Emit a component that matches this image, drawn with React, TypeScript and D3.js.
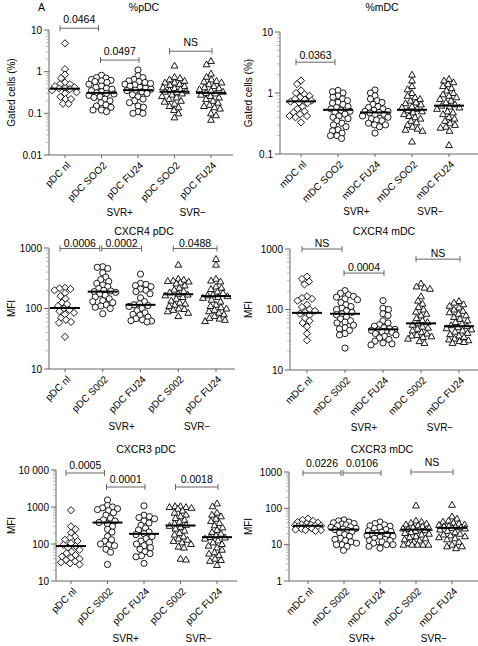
import React from 'react';
import * as d3 from 'd3';

// ---------- categories & labels ----------
const pdcLabelsTop = ['pDC nl', 'pDC SOO2', 'pDC FU24', 'pDC SOO2', 'pDC FU24'];
const mdcLabelsTop = ['mDC nl', 'mDC SOO2', 'mDC FU24', 'mDC SOO2', 'mDC FU24'];
const pdcLabels = ['pDC nl', 'pDC S002', 'pDC FU24', 'pDC S002', 'pDC FU24'];
const mdcLabels = ['mDC nl', 'mDC S002', 'mDC FU24', 'mDC S002', 'mDC FU24'];
const markerShapes = ['diamond', 'circle', 'circle', 'triangle', 'triangle'];
const groupLabels = ['SVR+', 'SVR\u2212'];

// ---------- tick values ----------
const pctTicksA = [0.01, 0.1, 1, 10];
const pctTickLabelsA = ['0.01', '0.1', '1', '10'];
const pctTicksB = [0.1, 1, 10];
const pctTickLabelsB = ['0.1', '1', '10'];
const mfiTicks = [10, 100, 1000];
const mfiTickLabels = ['10', '100', '1000'];
const cx3pTicks = [10, 100, 1000, 10000];
const cx3pTickLabels = ['10', '100', '1000', '10 000'];
const cx3mTicks = [1, 10, 100, 1000];
const cx3mTickLabels = ['1', '10', '100', '1000'];

// ---------- %pDC ----------
const pctPdcNl = [4.8, 1.15, 0.85, 0.7, 0.55, 0.5, 0.5, 0.45, 0.42, 0.4, 0.4, 0.38, 0.36, 0.32, 0.3, 0.25, 0.22, 0.22, 0.17, 0.17];
const pctPdcSoo2P = [0.82, 0.72, 0.7, 0.65, 0.62, 0.6, 0.58, 0.55, 0.5, 0.45, 0.42, 0.4, 0.38, 0.35, 0.33, 0.31, 0.3, 0.29, 0.27, 0.25, 0.24, 0.22, 0.2, 0.18, 0.16, 0.15, 0.14, 0.12, 0.12, 0.11];
const pctPdcFu24P = [1.1, 0.8, 0.72, 0.65, 0.6, 0.58, 0.55, 0.52, 0.5, 0.48, 0.45, 0.42, 0.4, 0.38, 0.36, 0.35, 0.33, 0.3, 0.28, 0.25, 0.22, 0.2, 0.18, 0.15, 0.14, 0.11, 0.1, 0.1];
const pctPdcSoo2N = [1.4, 0.75, 0.7, 0.65, 0.6, 0.55, 0.55, 0.5, 0.48, 0.45, 0.42, 0.4, 0.38, 0.36, 0.34, 0.33, 0.32, 0.3, 0.28, 0.26, 0.24, 0.22, 0.2, 0.19, 0.17, 0.15, 0.14, 0.12, 0.1, 0.08];
const pctPdcFu24N = [1.8, 1.5, 0.9, 0.75, 0.65, 0.6, 0.58, 0.55, 0.5, 0.45, 0.42, 0.4, 0.38, 0.35, 0.33, 0.31, 0.3, 0.28, 0.26, 0.24, 0.22, 0.2, 0.18, 0.16, 0.15, 0.14, 0.13, 0.1, 0.09, 0.07];
const pctPdcMedians = [0.39, 0.31, 0.36, 0.33, 0.31];

// ---------- %mDC ----------
const pctMdcNl = [1.6, 1.4, 1.1, 1.0, 0.95, 0.9, 0.85, 0.8, 0.78, 0.75, 0.72, 0.7, 0.68, 0.6, 0.55, 0.5, 0.48, 0.45, 0.42, 0.42, 0.4, 0.33];
const pctMdcSoo2P = [1.1, 1.05, 1.0, 0.9, 0.85, 0.8, 0.75, 0.7, 0.68, 0.65, 0.6, 0.58, 0.55, 0.52, 0.5, 0.48, 0.45, 0.42, 0.4, 0.38, 0.35, 0.32, 0.3, 0.28, 0.25, 0.24, 0.22, 0.2, 0.2, 0.18];
const pctMdcFu24P = [1.12, 1.0, 0.9, 0.8, 0.75, 0.7, 0.65, 0.6, 0.58, 0.55, 0.52, 0.5, 0.5, 0.48, 0.47, 0.45, 0.44, 0.42, 0.4, 0.38, 0.36, 0.35, 0.32, 0.3, 0.3, 0.28, 0.22];
const pctMdcSoo2N = [2.0, 1.6, 1.3, 1.15, 1.0, 0.9, 0.85, 0.8, 0.75, 0.7, 0.68, 0.65, 0.6, 0.58, 0.55, 0.52, 0.5, 0.48, 0.45, 0.42, 0.4, 0.38, 0.35, 0.33, 0.3, 0.28, 0.26, 0.25, 0.24, 0.16];
const pctMdcFu24N = [1.7, 1.6, 1.5, 1.4, 1.3, 1.2, 1.1, 1.0, 0.95, 0.9, 0.85, 0.8, 0.75, 0.7, 0.65, 0.62, 0.6, 0.58, 0.55, 0.5, 0.48, 0.45, 0.4, 0.38, 0.35, 0.32, 0.3, 0.28, 0.27, 0.24, 0.14];
const pctMdcMedians = [0.73, 0.53, 0.48, 0.53, 0.62];

// ---------- CXCR4 pDC ----------
const cx4PdcNl = [220, 215, 210, 200, 180, 160, 145, 125, 118, 110, 100, 95, 90, 85, 80, 70, 65, 60, 58, 34];
const cx4PdcSoo2P = [490, 480, 460, 390, 330, 300, 280, 260, 245, 230, 215, 200, 195, 190, 185, 175, 165, 155, 145, 135, 130, 125, 115, 110, 105, 100, 82];
const cx4PdcFu24P = [370, 260, 250, 240, 230, 210, 200, 190, 175, 150, 130, 120, 115, 112, 108, 100, 92, 85, 80, 78, 72, 68, 65, 63, 62, 60];
const cx4PdcSoo2N = [530, 310, 300, 290, 285, 280, 270, 260, 240, 220, 205, 195, 185, 175, 170, 165, 155, 145, 135, 125, 120, 115, 110, 100, 98, 95, 90, 85, 75];
const cx4PdcFu24N = [660, 530, 310, 290, 280, 230, 220, 210, 190, 180, 170, 165, 160, 155, 150, 140, 130, 115, 110, 105, 100, 95, 90, 85, 80, 75, 70, 68, 65, 62];
const cx4PdcMedians = [102, 190, 115, 172, 160];

// ---------- CXCR4 mDC ----------
const cx4MdcNl = [350, 320, 290, 260, 165, 155, 150, 140, 120, 110, 100, 95, 90, 85, 80, 72, 65, 60, 52, 40, 31];
const cx4MdcSoo2P = [205, 185, 175, 165, 160, 150, 145, 130, 120, 112, 105, 100, 95, 90, 85, 82, 75, 70, 65, 62, 60, 55, 50, 48, 45, 40, 38, 23];
const cx4MdcFu24P = [140, 105, 100, 85, 80, 65, 60, 56, 53, 50, 48, 47, 46, 45, 44, 43, 42, 40, 38, 36, 34, 32, 30, 28, 27, 26];
const cx4MdcSoo2N = [270, 240, 230, 220, 165, 140, 125, 110, 100, 92, 85, 80, 72, 66, 62, 59, 56, 52, 50, 48, 45, 42, 40, 38, 37, 36, 35, 33, 30, 28];
const cx4MdcFu24N = [138, 130, 122, 115, 108, 100, 95, 90, 85, 80, 75, 70, 66, 62, 58, 55, 53, 51, 49, 47, 45, 43, 41, 39, 37, 35, 33, 32, 31, 30, 29, 28];
const cx4MdcMedians = [88, 85, 47, 59, 53];

// ---------- CXCR3 pDC ----------
const cx3PdcNl = [820, 300, 250, 200, 160, 145, 130, 120, 105, 95, 88, 80, 70, 62, 56, 50, 46, 42, 40, 37, 34, 32, 30, 28];
const cx3PdcSoo2P = [1550, 1100, 1000, 950, 900, 850, 800, 700, 600, 500, 450, 420, 380, 350, 300, 250, 210, 160, 130, 120, 100, 95, 90, 72, 60, 28];
const cx3PdcFu24P = [1080, 600, 550, 520, 480, 420, 370, 320, 270, 240, 210, 190, 180, 160, 140, 120, 110, 100, 90, 80, 72, 62, 55, 48, 45, 30];
const cx3PdcSoo2N = [1050, 1050, 1000, 1000, 950, 900, 800, 700, 620, 560, 500, 450, 400, 360, 330, 310, 290, 260, 230, 200, 180, 160, 140, 130, 120, 110, 100, 85, 80, 40, 38];
const cx3PdcFu24N = [1250, 1050, 700, 620, 560, 480, 420, 370, 320, 280, 240, 210, 190, 170, 155, 150, 140, 125, 110, 100, 90, 80, 70, 60, 55, 50, 40, 37, 35, 27];
const cx3PdcMedians = [88, 380, 188, 316, 153];

// ---------- CXCR3 mDC ----------
const cx3MdcNl = [52, 48, 45, 42, 40, 38, 36, 35, 34, 33, 33, 32, 31, 30, 29, 28, 27, 26, 25, 25, 24];
const cx3MdcSoo2P = [48, 45, 42, 40, 38, 37, 35, 33, 31, 30, 28, 27, 26, 25, 23, 21, 19, 17, 15, 14, 13, 12, 11, 10, 10, 9, 7];
const cx3MdcFu24P = [42, 38, 35, 33, 32, 30, 28, 26, 24, 23, 22, 21, 20, 19, 18, 17, 16, 15, 14, 13, 13, 12, 12, 11, 10, 10, 9, 8];
const cx3MdcSoo2N = [120, 46, 43, 40, 38, 36, 34, 32, 30, 29, 28, 27, 26, 25, 24, 22, 21, 20, 19, 17, 16, 15, 14, 13, 12, 11, 10, 10, 10, 10, 10];
const cx3MdcFu24N = [125, 60, 52, 46, 43, 40, 38, 36, 35, 33, 32, 31, 30, 29, 28, 26, 24, 22, 20, 19, 18, 17, 16, 15, 14, 12, 10, 9, 9, 8];
const cx3MdcMedians = [33, 26, 21, 26, 29];

// ---------- significance brackets (category index from/to, level in data units) ----------
const br1 = [{ a: 0, b: 1, v: 11, t: '0.0464' }, { a: 1, b: 2, v: 1.9, t: '0.0497' }, { a: 3, b: 4, v: 3.1, t: 'NS' }];
const br2 = [{ a: 0, b: 1, v: 3.2, t: '0.0363' }];
const br3 = [{ a: 0, b: 1, v: 980, t: '0.0006' }, { a: 1, b: 2, v: 980, t: '0.0002' }, { a: 3, b: 4, v: 980, t: '0.0488' }];
const br4 = [{ a: 0, b: 1, v: 1000, t: 'NS' }, { a: 1, b: 2, v: 400, t: '0.0004' }, { a: 3, b: 4, v: 680, t: 'NS' }];
const br5 = [{ a: 0, b: 1, v: 8300, t: '0.0005' }, { a: 1, b: 2, v: 3470, t: '0.0001' }, { a: 3, b: 4, v: 3470, t: '0.0018' }];
const br6 = [{ a: 0, b: 1, v: 940, t: '0.0226' }, { a: 1, b: 2, v: 940, t: '0.0106' }, { a: 3, b: 4, v: 1000, t: 'NS' }];

const panels = [
  {
    key: 'p1', title: '%pDC', yLabel: 'Gated cells (%)', cats: pdcLabelsTop,
    series: [pctPdcNl, pctPdcSoo2P, pctPdcFu24P, pctPdcSoo2N, pctPdcFu24N], medians: pctPdcMedians,
    domain: [0.01, 10], ticks: pctTicksA, tickLabels: pctTickLabelsA, brackets: br1,
    L: { ax: 49, yt: 30, yb: 155, xe: 233, c0: 65, c1: 211, tx: 144, ty: 11, lx: 15, gap: 5 },
  },
  {
    key: 'p2', title: '%mDC', yLabel: 'Gated cells (%)', cats: mdcLabelsTop,
    series: [pctMdcNl, pctMdcSoo2P, pctMdcFu24P, pctMdcSoo2N, pctMdcFu24N], medians: pctMdcMedians,
    domain: [0.1, 10], ticks: pctTicksB, tickLabels: pctTickLabelsB, brackets: br2,
    L: { ax: 280, yt: 32, yb: 154, xe: 478, c0: 301, c1: 449, tx: 382, ty: 11, lx: 252, gap: 3.5 },
  },
  {
    key: 'p3', title: 'CXCR4 pDC', yLabel: 'MFI', cats: pdcLabels,
    series: [cx4PdcNl, cx4PdcSoo2P, cx4PdcFu24P, cx4PdcSoo2N, cx4PdcFu24N], medians: cx4PdcMedians,
    domain: [10, 1000], ticks: mfiTicks, tickLabels: mfiTickLabels, brackets: br3,
    L: { ax: 49, yt: 248, yb: 369, xe: 235, c0: 65, c1: 216, tx: 144, ty: 235, lx: 15, gap: 1.5 },
  },
  {
    key: 'p4', title: 'CXCR4 mDC', yLabel: 'MFI', cats: mdcLabels,
    series: [cx4MdcNl, cx4MdcSoo2P, cx4MdcFu24P, cx4MdcSoo2N, cx4MdcFu24N], medians: cx4MdcMedians,
    domain: [10, 1000], ticks: mfiTicks, tickLabels: mfiTickLabels, brackets: br4,
    L: { ax: 290, yt: 249, yb: 370, xe: 478, c0: 307, c1: 459, tx: 384, ty: 235, lx: 252, gap: 2.5 },
  },
  {
    key: 'p5', title: 'CXCR3 pDC', yLabel: 'MFI', cats: pdcLabels,
    series: [cx3PdcNl, cx3PdcSoo2P, cx3PdcFu24P, cx3PdcSoo2N, cx3PdcFu24N], medians: cx3PdcMedians,
    domain: [10, 10000], ticks: cx3pTicks, tickLabels: cx3pTickLabels, brackets: br5,
    L: { ax: 56, yt: 470, yb: 581, xe: 237, c0: 71, c1: 217, tx: 146, ty: 453, lx: 15, gap: 4 },
  },
  {
    key: 'p6', title: 'CXCR3 mDC', yLabel: 'MFI', cats: mdcLabels,
    series: [cx3MdcNl, cx3MdcSoo2P, cx3MdcFu24P, cx3MdcSoo2N, cx3MdcFu24N], medians: cx3MdcMedians,
    domain: [1, 1000], ticks: cx3mTicks, tickLabels: cx3mTickLabels, brackets: br6,
    L: { ax: 289, yt: 472, yb: 581, xe: 478, c0: 308, c1: 452, tx: 382, ty: 453, lx: 252, gap: 6 },
  },
];

const FONT = '"Liberation Sans", Arial, Helvetica, sans-serif';

// deterministic dodge layout for the dots (x offset only), clamped to a column width
function swarm(values: number[], y: (v: number) => number, minDist: number, maxSpread: number) {
  const items = values.map((v) => ({ v, y: y(v), x: 0 })).sort((a, b) => a.y - b.y);
  const placed: { x: number; y: number }[] = [];
  items.forEach((it, idx) => {
    let chosen: number | null = null;
    let bestScore = -1;
    let bestDx = 0;
    for (let k = 0; k * 0.5 <= maxSpread; k++) {
      const d = k * 0.5;
      const cands = k === 0 ? [0] : idx % 2 === 0 ? [d, -d] : [-d, d];
      for (const dx of cands) {
        let minD2 = Infinity;
        for (const p of placed) {
          const d2 = (p.x - dx) ** 2 + (p.y - it.y) ** 2;
          if (d2 < minD2) minD2 = d2;
        }
        if (minD2 >= minDist * minDist) {
          chosen = dx;
          break;
        }
        if (minD2 > bestScore) {
          bestScore = minD2;
          bestDx = dx;
        }
      }
      if (chosen !== null) break;
    }
    it.x = chosen !== null ? chosen : bestDx;
    placed.push(it);
  });
  return items;
}

function Marker({ shape, x, y }: { shape: string; x: number; y: number }) {
  const st = { fill: 'white', stroke: 'black', strokeWidth: 0.9 };
  if (shape === 'circle') return <circle cx={x} cy={y} r={3.1} {...st} />;
  if (shape === 'diamond') {
    const s = 3.6;
    return <path d={`M${x},${y - s}L${x + s},${y}L${x},${y + s}L${x - s},${y}Z`} {...st} />;
  }
  return <path d={`M${x},${y - 3.4}L${x + 3.4},${y + 2.5}L${x - 3.4},${y + 2.5}Z`} {...st} />;
}

function Panel({ p }: { p: (typeof panels)[number] }) {
  const L = p.L;
  const y = d3.scaleLog().domain(p.domain).range([L.yb, L.yt]);
  const x = d3.scalePoint<number>().domain([0, 1, 2, 3, 4]).range([L.c0, L.c1]);
  const minor: number[] = [];
  const lo = Math.round(Math.log10(p.domain[0]));
  const hi = Math.round(Math.log10(p.domain[1]));
  for (let e = lo; e < hi; e++) {
    for (let k = 2; k <= 9; k++) minor.push(k * Math.pow(10, e));
  }
  const axisColor = '#666';
  return (
    <g>
      <text x={L.tx} y={L.ty} textAnchor="middle" fontSize={10.5}>
        {p.title}
      </text>
      <text transform={`rotate(-90 ${L.lx} ${(L.yt + L.yb) / 2})`} x={L.lx} y={(L.yt + L.yb) / 2} textAnchor="middle" fontSize={10}>
        {p.yLabel}
      </text>
      {/* y axis */}
      <line x1={L.ax} x2={L.ax} y1={L.yt} y2={L.yb} stroke={axisColor} strokeWidth={1} />
      {minor.map((m) => (
        <line key={'m' + m} x1={L.ax - 3} x2={L.ax} y1={y(m)} y2={y(m)} stroke="#999" strokeWidth={0.7} />
      ))}
      {p.ticks.map((t, i) => (
        <g key={'t' + t}>
          <line x1={L.ax - 5} x2={L.ax} y1={y(t)} y2={y(t)} stroke={axisColor} strokeWidth={1} />
          <text x={L.ax - 7} y={y(t)} dy="0.35em" textAnchor="end" fontSize={10}>
            {p.tickLabels[i]}
          </text>
        </g>
      ))}
      {/* x axis */}
      <line x1={L.ax} x2={L.xe} y1={L.yb} y2={L.yb} stroke={axisColor} strokeWidth={1} />
      {p.cats.map((c, i) => {
        const lx = (x(i) as number) + 6;
        const ly = L.yb + 11;
        return (
          <g key={'c' + i}>
            <line x1={x(i)} x2={x(i)} y1={L.yb} y2={L.yb + 3} stroke={axisColor} strokeWidth={1} />
            <text x={lx} y={ly} transform={`rotate(-45 ${lx} ${ly})`} textAnchor="end" fontSize={10}>
              {c}
            </text>
          </g>
        );
      })}
      <text x={((x(1) as number) + (x(2) as number)) / 2} y={L.yb + 61} textAnchor="middle" fontSize={10}>
        {groupLabels[0]}
      </text>
      <text x={((x(3) as number) + (x(4) as number)) / 2} y={L.yb + 61} textAnchor="middle" fontSize={10}>
        {groupLabels[1]}
      </text>
      {/* points */}
      {p.series.map((vals, i) => {
        const pts = swarm(vals, (v) => y(v), 5.2, 13);
        return (
          <g key={'s' + i}>
            {pts.map((pt, j) => (
              <Marker key={j} shape={markerShapes[i]} x={(x(i) as number) + pt.x} y={pt.y} />
            ))}
          </g>
        );
      })}
      {p.medians.map((m, i) => (
        <line key={'md' + i} x1={(x(i) as number) - 15} x2={(x(i) as number) + 15} y1={y(m)} y2={y(m)} stroke="black" strokeWidth={2} />
      ))}
      {/* brackets */}
      {p.brackets.map((b, i) => {
        const x1 = (x(b.a) as number) + (b.a === 1 ? -1 : -5);
        const x2 = (x(b.b) as number) + (b.b === 1 ? -3 : 1);
        const yy = y(b.v);
        return (
          <g key={'b' + i} stroke={axisColor} strokeWidth={1}>
            <line x1={x1} x2={x2} y1={yy} y2={yy} />
            <line x1={x1} x2={x1} y1={yy - 3} y2={yy + 3} />
            <line x1={x2} x2={x2} y1={yy - 3} y2={yy + 3} />
            <text x={(x1 + x2) / 2} y={yy - L.gap} textAnchor="middle" fontSize={10.5} stroke="none" fill="black">
              {b.t}
            </text>
          </g>
        );
      })}
    </g>
  );
}

export default function App() {
  return (
    <svg width={478} height={646} style={{ position: 'absolute', left: 0, top: 0, background: 'white' }} fontFamily={FONT}>
      <rect width={478} height={646} fill="white" />
      <text x={38} y={11} fontSize={10.5}>A</text>
      {panels.map((p) => (
        <Panel key={p.key} p={p} />
      ))}
    </svg>
  );
}
